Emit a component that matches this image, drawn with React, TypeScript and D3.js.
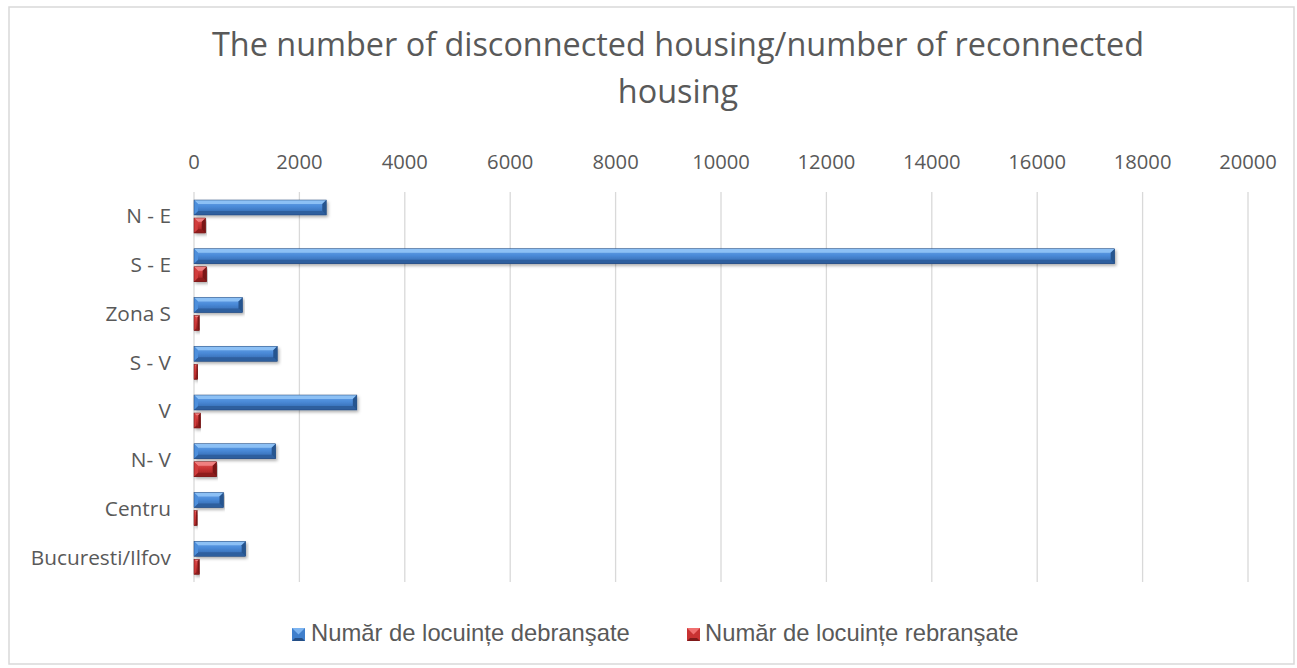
import React from "react";
import * as d3 from "d3";

const categories = ["N - E", "S - E", "Zona S", "S - V", "V", "N- V", "Centru", "Bucuresti/Ilfov"];
const debransate = [2510, 17470, 920, 1580, 3090, 1550, 560, 980];
const rebransate = [220, 240, 100, 70, 125, 430, 60, 100];
const ticks = [0, 2000, 4000, 6000, 8000, 10000, 12000, 14000, 16000, 18000, 20000];
const seriesNames = ["Număr de locuințe debranşate", "Număr de locuințe rebranşate"];
const titleLines = ["The number of disconnected housing/number of reconnected", "housing"];

const W = 1297;
const H = 668;

function Bar({ x0, x1, y, h, kind }: { x0: number; x1: number; y: number; h: number; kind: "b" | "r" }) {
  const w = Math.max(x1 - x0, 1);
  const b = Math.min(4, w / 3, h / 3);
  const c = kind === "b"
    ? { top: "#8cc0f5", mid: "#4d8fdc", bot: "#2e5e9e", end: "#27548f", edge: "#1f4577" }
    : { top: "#f08080", mid: "#d23c3c", bot: "#8f1d1d", end: "#7a1818", edge: "#6b1414" };
  return (
    <g filter="url(#shadow)">
      <rect x={x0} y={y} width={w} height={h} fill={`url(#grad-${kind})`} />
      <polygon points={`${x0},${y} ${x0 + w},${y} ${x0 + w - b},${y + b} ${x0 + b},${y + b}`} fill={c.top} />
      <polygon points={`${x0},${y + h} ${x0 + w},${y + h} ${x0 + w - b},${y + h - b} ${x0 + b},${y + h - b}`} fill={c.bot} />
      <polygon points={`${x0 + w},${y} ${x0 + w},${y + h} ${x0 + w - b},${y + h - b} ${x0 + w - b},${y + b}`} fill={c.end} />
      <polygon points={`${x0},${y} ${x0},${y + h} ${x0 + b},${y + h - b} ${x0 + b},${y + b}`} fill={c.mid} />
      <rect x={x0} y={y} width={w} height={h} fill="none" stroke={c.edge} strokeWidth={0.5} />
    </g>
  );
}

function LegendSwatch({ x, y, kind }: { x: number; y: number; kind: "b" | "r" }) {
  const s = 13;
  const c = kind === "b"
    ? { top: "#7db4f0", face: "#3f7fcc", bot: "#254f86" }
    : { top: "#f07070", face: "#c83232", bot: "#7f1a1a" };
  const b = 3;
  return (
    <g>
      <rect x={x} y={y} width={s} height={s} fill={c.face} />
      <polygon points={`${x},${y} ${x + s},${y} ${x + s / 2},${y + s / 2}`} fill={c.top} />
      <polygon points={`${x},${y + s} ${x + s},${y + s} ${x + s - b},${y + s - b} ${x + b},${y + s - b}`} fill={c.bot} />
    </g>
  );
}

export default function App() {
  const x = d3.scaleLinear().domain([0, 20000]).range([194, 1248]);
  const y = d3.scaleBand().domain(categories).range([192, 582]).paddingInner(0).paddingOuter(0);
  const bw = y.bandwidth();
  const barH = 15;
  const off1 = 8;
  const off2 = 26;

  return (
    <svg width={W} height={H} style={{ position: "absolute", left: 0, top: 0 }}>
      <defs>
        <linearGradient id="grad-b" x1="0" y1="0" x2="0" y2="1">
          <stop offset="0" stopColor="#6aa5ea" />
          <stop offset="0.45" stopColor="#4a8ad8" />
          <stop offset="1" stopColor="#2f62a6" />
        </linearGradient>
        <linearGradient id="grad-r" x1="0" y1="0" x2="0" y2="1">
          <stop offset="0" stopColor="#e65a5a" />
          <stop offset="0.45" stopColor="#c93434" />
          <stop offset="1" stopColor="#941f1f" />
        </linearGradient>
        <filter id="shadow" x="-5%" y="-30%" width="110%" height="180%">
          <feDropShadow dx="1.5" dy="2" stdDeviation="1.5" floodColor="#000" floodOpacity="0.3" />
        </filter>
      </defs>
      <rect x={0} y={0} width={W} height={H} fill="#fff" />
      <rect x={9} y={7} width={1285} height={657} fill="#fff" stroke="#d9d9d9" strokeWidth={1.5} />

      {titleLines.map((t, i) => (
        <text key={i} x={678} y={56 + i * 47} textAnchor="middle" fontFamily="'Open Sans', sans-serif" fontSize={32.4} fill="#595959">
          {t}
        </text>
      ))}

      {ticks.map((t) => (
        <g key={t}>
          <line x1={x(t)} x2={x(t)} y1={192} y2={582} stroke="#d9d9d9" strokeWidth={1.3} />
          <text x={x(t)} y={169} textAnchor="middle" fontFamily="'Open Sans', sans-serif" fontSize={20.2} fill="#595959">
            {t}
          </text>
        </g>
      ))}

      {categories.map((cat, i) => {
        const y0 = y(cat)!;
        return (
          <g key={cat}>
            <text x={171} y={y0 + bw / 2 + 7} textAnchor="end" fontFamily="'Open Sans', sans-serif" fontSize={20.8} fill="#595959">
              {cat}
            </text>
            <Bar x0={x(0)} x1={x(debransate[i])} y={y0 + off1} h={barH} kind="b" />
            <Bar x0={x(0)} x1={x(rebransate[i])} y={y0 + off2} h={barH} kind="r" />
          </g>
        );
      })}

      <LegendSwatch x={292} y={628} kind="b" />
      <text x={311} y={641} fontFamily="'Liberation Sans', Arial, sans-serif" fontSize={23.8} fill="#595959">
        {seriesNames[0]}
      </text>
      <LegendSwatch x={687} y={628} kind="r" />
      <text x={705} y={641} fontFamily="'Liberation Sans', Arial, sans-serif" fontSize={23.8} fill="#595959">
        {seriesNames[1]}
      </text>
    </svg>
  );
}
